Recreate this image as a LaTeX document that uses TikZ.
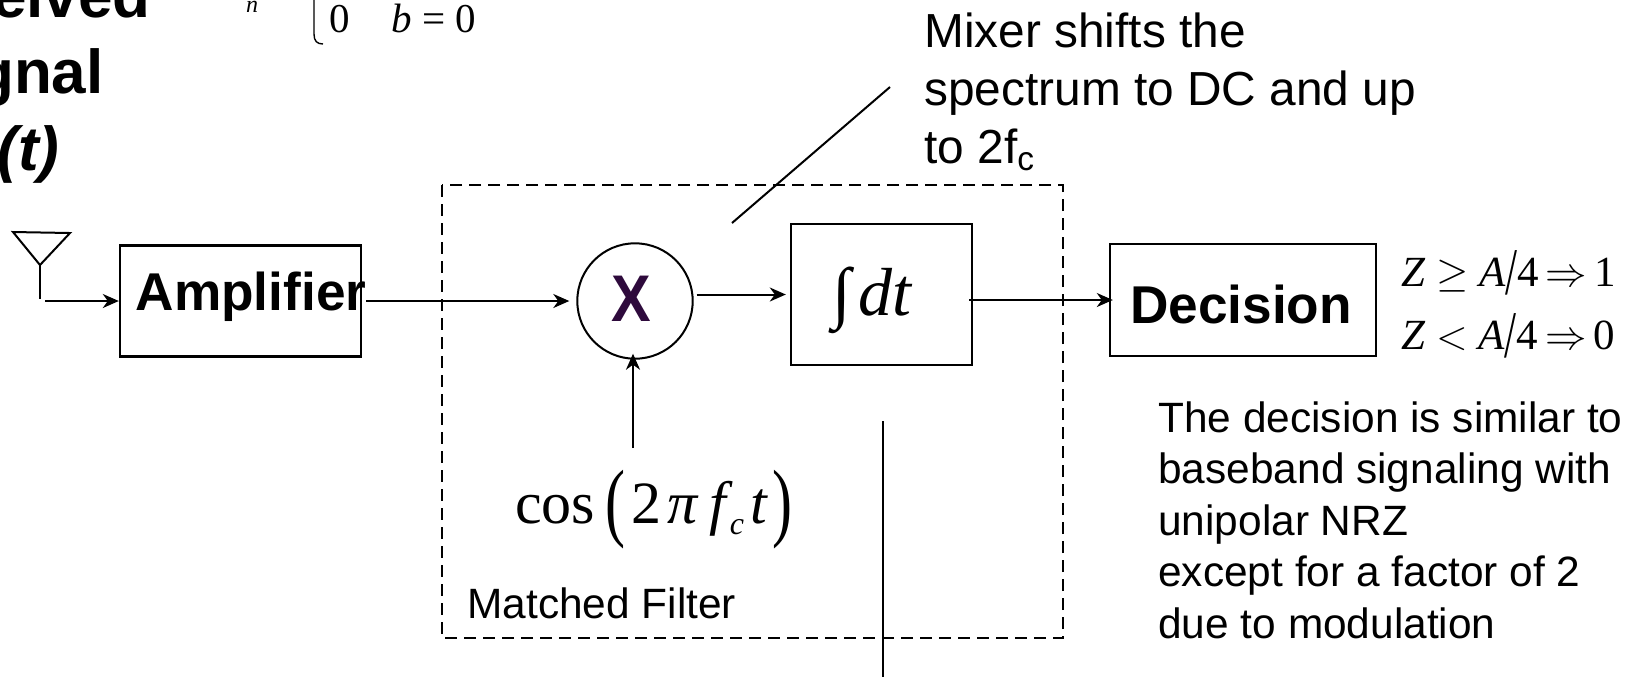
\documentclass[tikz,border=0pt]{standalone}
\usepackage{fontspec}
\setmainfont{Liberation Sans}
\newfontfamily\timesfont{Liberation Serif}
\usetikzlibrary{arrows, arrows.meta}
\definecolor{mixpurple}{HTML}{2E0A3C}
\newcommand{\tms}[1]{{\timesfont\itshape #1}}
\newcommand{\slashbig}{\raisebox{-0.2em}{\scalebox{1}[1.55]{\timesfont /}}}
\newcommand{\parbig}[1]{\raisebox{-0.12em}{\scalebox{1}[1.45]{#1}}}
\tikzset{
	blockbox/.style={draw, line width=1.2pt, inner sep=0pt},
	boldtxt/.style={inner sep=0pt, font=\fontsize{26.6}{30}\selectfont\bfseries},
	headtxt/.style={inner sep=0pt, font=\fontsize{31}{38}\selectfont\bfseries},
	notetxt/.style={inner sep=0pt, align=left, font=\fontsize{21.2}{25.8}\selectfont},
	mixtxt/.style={inner sep=0pt, align=left, font=\fontsize{23.9}{29}\selectfont},
	eqtxt/.style={inner sep=0pt, font=\timesfont\fontsize{21.5}{25}\selectfont},
	sig/.style={line width=1pt, -{Stealth[length=8pt,width=7pt,inset=2.5pt]}},
	thin line/.style={line width=1pt}
}
\begin{document}
\begin{tikzpicture}[x=0.5pt,y=-0.5pt]
	\useasboundingbox (0,0) rectangle (1632,677);

	\node[headtxt, anchor=base east] (rxa) at (151,17) {eived};
	\node[headtxt, anchor=base east] (rxb) at (104,93) {gnal};
	\node[headtxt, anchor=base east] (rxc) at (60,170) {\textit{(t)}};

	\node[inner sep=0pt, anchor=base] (subn) at (252,12) {\tms{\fontsize{12}{12}\selectfont n}};
	\node[eqtxt, anchor=base west, font=\timesfont\fontsize{20.5}{24}\selectfont] (zero) at (329,32) {0};
	\node[eqtxt, anchor=base west, font=\timesfont\fontsize{20.5}{24}\selectfont] (bzero) at (391,32) {\tms{b} = 0};
	\draw[line width=0.7pt] (314,0) -- (314,34) .. controls (314,41) and (317,44) .. (323,44);

	\coordinate (antl) at (13,232);
	\coordinate (antr) at (70,233);
	\coordinate (antc) at (40,265);
	\coordinate (antb) at (40,299);
	\coordinate (antf) at (43,301);
	\draw[thin line] (antl) -- (antr) -- (antc) -- cycle;
	\draw[thin line] (antc) -- (antb);

	\node[blockbox, minimum width=120.5pt, minimum height=55.5pt] (amp) at (240.5,301) {};
	\node[boldtxt, anchor=base] (amptxt) at (251,310) {Amplifier};
	\node[draw, circle, line width=1pt, inner sep=0pt, minimum size=57.7pt] (mix) at (635,301) {};
	\node[inner sep=0pt, text=mixpurple, font=\fontsize{33}{33}\selectfont\bfseries] (mixx) at (631,299) {\scalebox{0.9}[1]{X}};
	\node[blockbox, minimum width=90.5pt, minimum height=70.5pt] (int) at (881.5,294.5) {};
	\node[inner sep=0pt, anchor=base, font=\timesfont\fontsize{34}{34}\selectfont] (inttxt) at (872,315) {∫\kern4pt\tms{dt}};
	\node[blockbox, minimum width=133pt, minimum height=56pt] (dec) at (1243,300) {};
	\node[boldtxt] (dectxt) at (1241,304) {Decision};

	\node[inner sep=0pt, anchor=base, font=\timesfont\fontsize{30}{30}\selectfont] (cos) at (654,523) {cos\kern5pt\parbig{(}\kern3pt 2\kern3pt\tms{π}\kern6pt\tms{f}\kern2pt{\fontsize{16}{16}\selectfont\raisebox{-0.35em}{\tms{c}}}\kern3pt\tms{t}\kern3pt\parbig{)}};
	\coordinate (costop) at (633,448);

	\draw[dashed, line width=1.3pt, dash pattern=on 6pt off 3.5pt] (442,185) rectangle (1063,638);
	\node[notetxt, anchor=base west] (mf) at (467,618) {Matched Filter};

	\draw[sig, shorten <=1pt] (antf) -- (amp.west);
	\draw[sig, shorten <=2pt, shorten >=3.5pt] (amp.east) -- (mix.west);
	\draw[sig, shorten <=1.5pt, shorten >=2pt] (mix.east |- int.west) -- (int.west);
	\draw[sig, shorten >=-3pt] (costop) -- (costop |- mix.south);
	\draw[sig, shorten <=-2pt, shorten >=-2pt] (int.east |- dec.west) -- (dec.west);

	\coordinate (mixa) at (890,87);
	\coordinate (mixb) at (732,223);
	\draw[thin line] (mixa) -- (mixb);
	\coordinate (inta) at (883,421);
	\coordinate (intb) at (883,677);
	\draw[thin line] (inta) -- (intb);

	\node[mixtxt, anchor=north west] (mixnote) at (924,12) {Mixer shifts the\\spectrum to DC and up\\to 2f\textsubscript{c}};
	\node[eqtxt, anchor=base west] (eqa) at (1401,286) {\tms{Z} $\geq$ \tms{A}\slashbig 4\,$\Rightarrow$\,1};
	\node[eqtxt, anchor=base west] (eqb) at (1401,349) {\tms{Z} $<$ \tms{A}\slashbig 4\,$\Rightarrow$\,0};
	\node[notetxt, anchor=north west] (decnote) at (1158,401) {The decision is similar to\\baseband signaling with\\unipolar NRZ\\except for a factor of 2\\due to modulation};
\end{tikzpicture}
\end{document}
